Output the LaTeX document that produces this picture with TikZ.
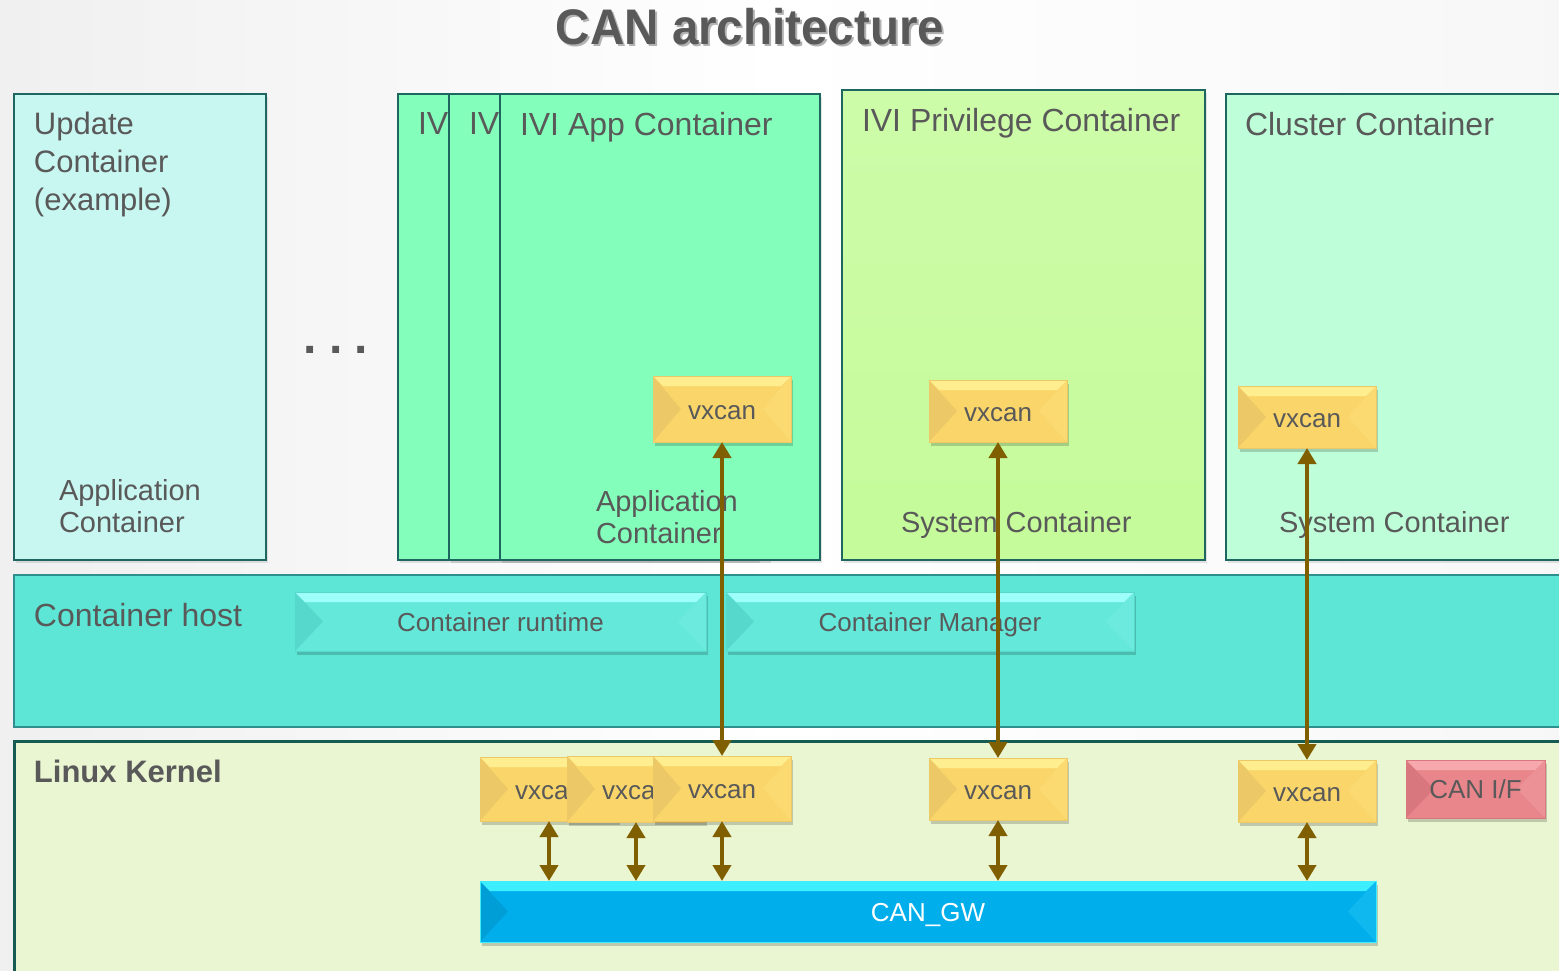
\documentclass[tikz,border=0pt]{standalone}
\usepackage{fontspec}
\setmainfont{Liberation Sans}
\usetikzlibrary{calc,shadows,arrows.meta}
\definecolor{txt}{HTML}{595959}
\definecolor{edge}{HTML}{1E6660}
\definecolor{updfill}{HTML}{C8F6F0}
\definecolor{ivifill}{HTML}{84FFBB}
\definecolor{privfill}{HTML}{C5FB9A}
\definecolor{clufill}{HTML}{BEFFD9}
\definecolor{hostfill}{HTML}{5DE6D6}
\definecolor{hostedge}{HTML}{2F8F8F}
\definecolor{kernfill}{HTML}{EAF5D1}
\definecolor{kernedge}{HTML}{175C52}
\definecolor{arrc}{HTML}{7F5F00}
\definecolor{vxbase}{HTML}{FAD66A}
\definecolor{vxleft}{HTML}{EDC866}
\definecolor{vxright}{HTML}{FCDA72}
\definecolor{vxtop}{HTML}{FFEE90}
\definecolor{rtbase}{HTML}{64E8DA}
\definecolor{rtleft}{HTML}{56D8CC}
\definecolor{rtright}{HTML}{6CEADE}
\definecolor{rttop}{HTML}{9EFFFA}
\definecolor{ifbase}{HTML}{E8868C}
\definecolor{ifleft}{HTML}{D8787E}
\definecolor{ifright}{HTML}{EC9296}
\definecolor{iftop}{HTML}{F6A8AC}
\definecolor{gwbase}{HTML}{00AEEB}
\definecolor{gwleft}{HTML}{009ED6}
\definecolor{gwright}{HTML}{10B8F0}
\definecolor{gwtop}{HTML}{3CEEFF}
\tikzset{
  bevel/.style n args={4}{fill=#1,
    path picture={
      \fill[#2] (path picture bounding box.north west) -- (path picture bounding box.south west) -- ($(path picture bounding box.west)+(28,0)$) -- cycle;
      \fill[#3] (path picture bounding box.north east) -- (path picture bounding box.south east) -- ($(path picture bounding box.east)+(-28,0)$) -- cycle;
      \fill[#4] (path picture bounding box.north west) -- (path picture bounding box.north east) -- ($(path picture bounding box.north east)+(-10,10)$) -- ($(path picture bounding box.north west)+(10,10)$) -- cycle;
    }},
  shad/.style={drop shadow={shadow xshift=2pt,shadow yshift=-4pt,opacity=0.18,fill=black}},
  cshad/.style={drop shadow={shadow xshift=2pt,shadow yshift=-3pt,opacity=0.1,fill=black}},
  vx/.style={anchor=north west, minimum width=138pt, shad, bevel={vxbase}{vxleft}{vxright}{vxtop}, draw=vxleft, line width=0.6pt, font=\fontsize{26}{30}\selectfont, text height=20pt, text depth=0pt},
  hostbar/.style={anchor=north west, minimum height=59pt, shad, bevel={rtbase}{rtleft}{rtright}{rttop}, draw=rtleft, line width=0.6pt, font=\fontsize{26}{30}\selectfont, text height=19pt, text depth=0pt},
  cbox/.style={anchor=north west, draw=edge, line width=2pt, cshad},
  ttl/.style={anchor=north west, align=left, font=\fontsize{32}{38}\selectfont},
  sub/.style={anchor=north west, align=left, font=\fontsize{29}{32}\selectfont},
  arr/.style={draw=arrc, line width=4pt, {Triangle[width=18pt,length=16pt]}-{Triangle[width=18pt,length=16pt]}},
}
\begin{document}
\begin{tikzpicture}[x=1pt,y=-1pt, every node/.style={inner sep=0pt, outer sep=0pt, text=txt}]
\useasboundingbox (0,0) rectangle (1559,971);
\clip (0,0) rectangle (1559,971);
\shade[left color=black!6, right color=white] (0,0) rectangle (780,971);
\shade[left color=white, right color=black!3] (780,0) rectangle (1559,971);

% title
\node[text=black!30, font=\fontsize{50}{56}\bfseries] at (752,29) {\scalebox{0.95}[1]{CAN architecture}};
\node (title) [font=\fontsize{50}{56}\bfseries] at (750,27) {\scalebox{0.95}[1]{CAN architecture}};

% containers
\node (upd) [cbox, fill=updfill, minimum width=252pt, minimum height=466pt] at (14,94) {};
\node (ivi1) [cbox, fill=ivifill, minimum width=360pt, minimum height=466pt] at (398,94) {};
\node (ivi2) [cbox, fill=ivifill, minimum width=320pt, minimum height=466pt] at (449,94) {};
\node (ivi3) [cbox, fill=ivifill, minimum width=320pt, minimum height=466pt] at (500,94) {};
\node (priv) [cbox, top color=privfill!85!white, bottom color=privfill, minimum width=363pt, minimum height=470pt] at (842,90) {};
\node (clu) [cbox, fill=clufill, minimum width=345pt, minimum height=466pt] at (1226,94) {};

\node (updt) [ttl, font=\fontsize{31}{38}\selectfont] at (34,112) {Update\\Container\\(example)};
\node (upda) [sub] at (59,479) {Application\\Container};
\node (dots) [font=\fontsize{48}{48}\bfseries, anchor=base] at (336,353) {.\hspace{12pt}.\hspace{12pt}.};
\node (iv1t) [ttl] at (418,112) {IV};
\node (iv2t) [ttl] at (469,112) {IV};
\node (iv3t) [ttl] at (520,112) {IVI App Container};
\node (iv3a) [sub] at (596,490) {Application\\Container};
\node (privt) [ttl] at (862,108) {IVI Privilege Container};
\node (privs) [sub] at (901,511) {System Container};
\node (clut) [ttl] at (1245,112) {Cluster Container};
\node (clus) [sub] at (1279,511) {System Container};

\node (vx1) [vx, minimum height=66pt] at (653,376) {vxcan};
\node (vx2) [vx, minimum height=62pt] at (929,380) {vxcan};
\node (vx3) [vx, minimum height=62pt] at (1238,386) {vxcan};

% container host
\node (host) [anchor=north west, fill=hostfill, draw=hostedge, line width=2pt, minimum width=1560pt, minimum height=152pt] at (14,575) {};
\node (hostt) [ttl] at (34,603) {Container host};
\node (rt) [hostbar, minimum width=411pt] at (295,592) {Container runtime};
\node (mgr) [hostbar, minimum width=408pt] at (726,592) {Container Manager};

% kernel
\node (kern) [anchor=north west, fill=kernfill, draw=kernedge, line width=3pt, minimum width=1560pt, minimum height=250pt] at (14,741) {};
\node (kernt) [anchor=north west, font=\fontsize{31}{38}\bfseries] at (34,760) {Linux Kernel};
\node (kv1) [vx, minimum height=64pt] at (480,757) {vxcan};
\node (kv2) [vx, minimum height=66pt] at (567,756) {vxcan};
\node (kv3) [vx, minimum height=65pt] at (653,756) {vxcan};
\node (kv4) [vx, minimum height=62pt] at (929,758) {vxcan};
\node (kv5) [vx, minimum height=62pt] at (1238,760) {vxcan};
\node (canif) [anchor=north west, minimum width=139pt, minimum height=58pt, shad, bevel={ifbase}{ifleft}{ifright}{iftop}, draw=ifleft, line width=0.6pt, font=\fontsize{26}{30}\selectfont] at (1406,760) {CAN I/F};
\node (gw) [anchor=north west, minimum width=896pt, minimum height=61pt, shad, bevel={gwbase}{gwleft}{gwright}{gwtop}, draw=gwtop, line width=0.6pt, text=white, font=\fontsize{26}{30}\selectfont, text height=19pt, text depth=0pt] at (480,881) {CAN\_GW};

% arrows
\draw[arr] (vx1.south) -- (kv3.north);
\draw[arr] (vx2.south) -- (kv4.north);
\draw[arr] (vx3.south) -- (kv5.north);
\draw[arr] (kv1.south) -- (kv1.south |- gw.north);
\draw[arr] (kv2.south) -- (kv2.south |- gw.north);
\draw[arr] (kv3.south) -- (kv3.south |- gw.north);
\draw[arr] (kv4.south) -- (kv4.south |- gw.north);
\draw[arr] (kv5.south) -- (kv5.south |- gw.north);
\end{tikzpicture}
\end{document}
